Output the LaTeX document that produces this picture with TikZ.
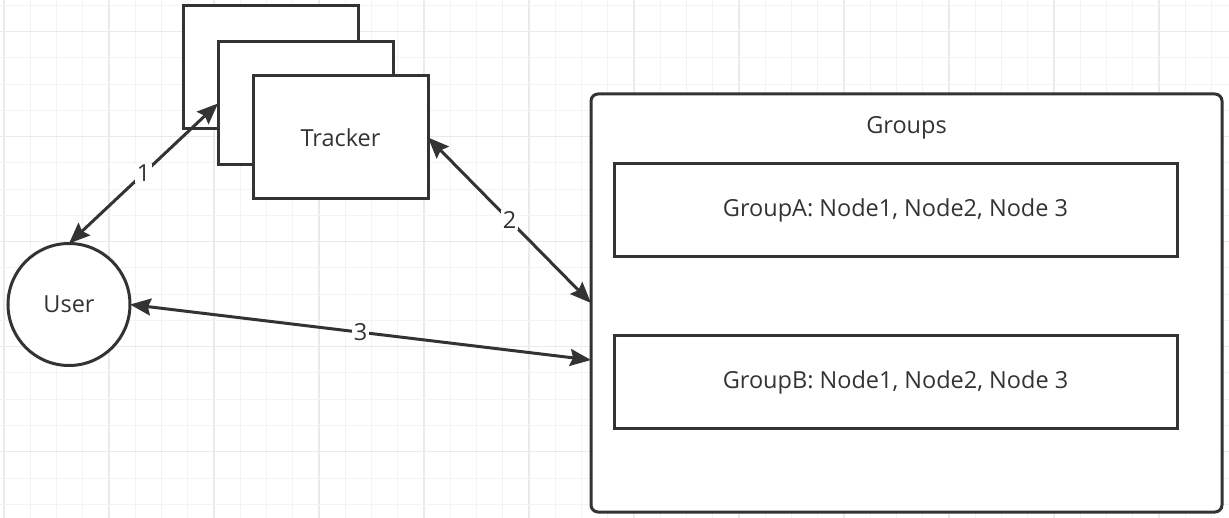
\documentclass[tikz,border=0pt]{standalone}
\usepackage{fontspec}
\setmainfont{Open Sans}
\usetikzlibrary{arrows.meta,calc}
\definecolor{ink}{HTML}{333333}
\definecolor{gridminor}{HTML}{F3F3F3}
\definecolor{gridmajor}{HTML}{EAEAEA}
\tikzset{
  box/.style={draw=ink, line width=3pt, fill=white, inner sep=0pt, outer sep=0pt, font=\fontsize{23.5}{28}\selectfont, text=ink},
  conn/.style={draw=ink, line width=3pt, {Stealth[length=21pt,width=17pt,inset=3pt]}-{Stealth[length=21pt,width=17pt,inset=3pt]}},
  lbl/.style={fill=white, inner sep=1.5pt, font=\fontsize{23.5}{28}\selectfont, text=ink}
}
\begin{document}
\begin{tikzpicture}[x=1pt,y=-1pt]
\useasboundingbox (0,0) rectangle (1229,518);
\fill[white] (0,0) rectangle (1229,518);
% grid
\foreach \k in {0,...,46}{
  \pgfmathsetmacro{\xx}{4+26.25*\k}
  \pgfmathtruncatemacro{\m}{mod(\k,4)}
  \ifnum\m=0
    \draw[gridmajor, line width=1.3pt] (\xx,0) -- (\xx,518);
  \else
    \draw[gridminor, line width=1pt] (\xx,0) -- (\xx,518);
  \fi
}
\foreach \k in {0,...,19}{
  \pgfmathsetmacro{\yy}{5.5+26.25*\k}
  \pgfmathtruncatemacro{\m}{mod(\k,4)}
  \ifnum\m=1
    \draw[gridmajor, line width=1.3pt] (0,\yy) -- (1229,\yy);
  \else
    \draw[gridminor, line width=1pt] (0,\yy) -- (1229,\yy);
  \fi
}
% tracker stack
\node[box, minimum width=175pt, minimum height=123pt] (back) at (270.5,67.5) {};
\node[box, minimum width=175pt, minimum height=123pt] (mid) at (305.5,103.5) {};
\node[box, minimum width=175pt, minimum height=123pt] (front) at (340.5,137.5) {Tracker};
% user
\node[box, circle, minimum size=122pt] (user) at (69,304.5) {User};
% groups
\node[box, rounded corners=7pt, minimum width=631pt, minimum height=418pt] (groups) at (906.5,303) {};
\node[font=\fontsize{23.5}{28}\selectfont, text=ink] (groupsl) at (906.5,128) {Groups};
\node[box, minimum width=563pt, minimum height=93pt] (ga) at (895.5,210.5) {GroupA: Node1, Node2, Node 3};
\node[box, minimum width=563pt, minimum height=93pt] (gb) at (895.5,382.5) {GroupB: Node1, Node2, Node 3};
\coordinate (g3) at ([yshift=-57pt]groups.west);
% connectors
\draw[conn] (user.north) -- node[lbl]{1} (mid.west);
\draw[conn] (front.east) -- node[lbl]{2} (groups.west);
\draw[conn] (user.east) -- node[lbl]{3} (g3);
\end{tikzpicture}
\end{document}
